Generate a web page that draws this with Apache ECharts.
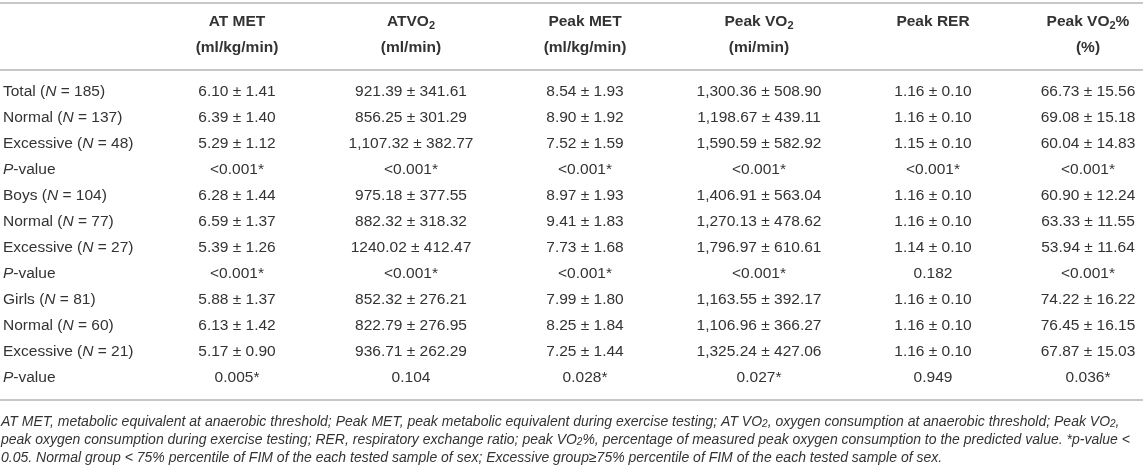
<!DOCTYPE html>
<html>
<head>
<meta charset="utf-8">
<script src="https://cdn.jsdelivr.net/npm/echarts@6/dist/echarts.min.js"></script>
<style>
  html, body { margin: 0; padding: 0; background: #fff; }
  #main { width: 1143px; height: 472px; }
</style>
</head>
<body>
<div id="main"></div>
<script type="text/javascript">
    // column headers (rich text, "2" is a subscript)
    var colHeaders = [
        '{b|AT MET}\n{b|(ml/kg/min)}',
        '{b|ATVO}{bs|2}\n{b|(ml/min)}',
        '{b|Peak MET}\n{b|(ml/kg/min)}',
        '{b|Peak VO}{bs|2}\n{b|(mi/min)}',
        '{b|Peak RER}\n{b| }'
    ];
    var lastHeader = ['{b|Peak VO}{bs|2}{b|%}\n{b|(%)}'];

    // row labels
    var rowGroups = ['Total', 'Normal', 'Excessive', 'P-value',
                     'Boys', 'Normal', 'Excessive', 'P-value',
                     'Girls', 'Normal', 'Excessive', 'P-value'];
    var rowN = [185, 137, 48, null, 104, 77, 27, null, 81, 60, 21, null];

    // cell values, one array per column
    var atMet = ['6.10 ± 1.41', '6.39 ± 1.40', '5.29 ± 1.12', '<0.001*',
                 '6.28 ± 1.44', '6.59 ± 1.37', '5.39 ± 1.26', '<0.001*',
                 '5.88 ± 1.37', '6.13 ± 1.42', '5.17 ± 0.90', '0.005*'];
    var atVo2 = ['921.39 ± 341.61', '856.25 ± 301.29', '1,107.32 ± 382.77', '<0.001*',
                 '975.18 ± 377.55', '882.32 ± 318.32', '1240.02 ± 412.47', '<0.001*',
                 '852.32 ± 276.21', '822.79 ± 276.95', '936.71 ± 262.29', '0.104'];
    var peakMet = ['8.54 ± 1.93', '8.90 ± 1.92', '7.52 ± 1.59', '<0.001*',
                   '8.97 ± 1.93', '9.41 ± 1.83', '7.73 ± 1.68', '<0.001*',
                   '7.99 ± 1.80', '8.25 ± 1.84', '7.25 ± 1.44', '0.028*'];
    var peakVo2 = ['1,300.36 ± 508.90', '1,198.67 ± 439.11', '1,590.59 ± 582.92', '<0.001*',
                   '1,406.91 ± 563.04', '1,270.13 ± 478.62', '1,796.97 ± 610.61', '<0.001*',
                   '1,163.55 ± 392.17', '1,106.96 ± 366.27', '1,325.24 ± 427.06', '0.027*'];
    var peakRer = ['1.16 ± 0.10', '1.16 ± 0.10', '1.15 ± 0.10', '<0.001*',
                   '1.16 ± 0.10', '1.16 ± 0.10', '1.14 ± 0.10', '0.182',
                   '1.16 ± 0.10', '1.16 ± 0.10', '1.16 ± 0.10', '0.949'];
    var peakVo2Pct = ['66.73 ± 15.56', '69.08 ± 15.18', '60.04 ± 14.83', '<0.001*',
                      '60.90 ± 12.24', '63.33 ± 11.55', '53.94 ± 11.64', '<0.001*',
                      '74.22 ± 16.22', '76.45 ± 16.15', '67.87 ± 15.03', '0.036*'];

    // footnote lines
    var notes = [
        'AT MET, metabolic equivalent at anaerobic threshold; Peak MET, peak metabolic equivalent during exercise testing; AT VO{s|2}, oxygen consumption at anaerobic threshold; Peak VO{s|2},',
        'peak oxygen consumption during exercise testing; RER, respiratory exchange ratio; peak VO{s|2}%, percentage of measured peak oxygen consumption to the predicted value. *p-value <',
        '0.05. Normal group < 75% percentile of FIM of the each tested sample of sex; Excessive group≥75% percentile of FIM of the each tested sample of sex.'
    ];

    var FONT = '"Liberation Sans", Arial, sans-serif';
    var TXT = '#333';
    var RULE = '#b4b4b4';
    var FS = 15.5;

    // build cell data [col, row] for each grid
    function buildCells(cols) {
        var data = [], text = [];
        for (var c = 0; c < cols.length; c++) {
            for (var r = 0; r < cols[c].length; r++) {
                data.push([c, r]);
                text.push(cols[c][r]);
            }
        }
        return { data: data, text: text };
    }
    var cellsA = buildCells([atMet, atVo2, peakMet, peakVo2, peakRer]);
    var cellsB = buildCells([peakVo2Pct]);

    function textRenderer(texts) {
        return function (params, api) {
            var p = api.coord([api.value(0), api.value(1)]);
            return {
                type: 'text',
                x: p[0],
                y: p[1],
                style: {
                    text: texts[params.dataIndex],
                    fill: TXT,
                    font: FS + 'px ' + FONT,
                    align: 'center',
                    verticalAlign: 'middle'
                }
            };
        };
    }

    var rowLabels = rowGroups.map(function (g, i) {
        if (g === 'P-value') return '{i|P}{n|-value}';
        return '{n|' + g + ' (}{i|N}{n| = ' + rowN[i] + ')}';
    });

    var myChart = echarts.init(document.getElementById('main'));

    var headRich = {
        b: { fontSize: FS, fontWeight: 'bold', fontFamily: FONT, color: TXT, lineHeight: 26 },
        bs: { fontSize: 11, fontWeight: 'bold', fontFamily: FONT, color: TXT, lineHeight: 26, verticalAlign: 'bottom', padding: [0, 0, 4, 0] }
    };
    var noteRich = {
        s: { fontSize: 10, fontStyle: 'italic', fontFamily: FONT, color: TXT, verticalAlign: 'bottom', lineHeight: 13 }
    };

    var graphics = [
        { type: 'line', shape: { x1: 0, y1: 3, x2: 1143, y2: 3 }, style: { stroke: RULE, lineWidth: 1.5 } },
        { type: 'line', shape: { x1: 0, y1: 70, x2: 1143, y2: 70 }, style: { stroke: RULE, lineWidth: 1.5 } },
        { type: 'line', shape: { x1: 0, y1: 400, x2: 1143, y2: 400 }, style: { stroke: RULE, lineWidth: 1.5 } }
    ];
    notes.forEach(function (t, i) {
        graphics.push({
            type: 'text',
            x: 1,
            y: 422 + i * 18,
            style: {
                text: t,
                fill: TXT,
                font: 'italic 14px ' + FONT,
                verticalAlign: 'middle',
                rich: noteRich
            }
        });
    });

    function headAxis(idx, data, gap) {
        return {
            type: 'category',
            gridIndex: idx,
            position: 'top',
            data: data,
            boundaryGap: gap,
            axisLine: { show: false },
            axisTick: { show: false },
            splitLine: { show: false },
            axisLabel: {
                interval: 0,
                margin: 31,
                formatter: function (v) { return v; },
                rich: headRich
            }
        };
    }

    var option = {
        animation: false,
        textStyle: { fontFamily: FONT, color: TXT },
        grid: [
            { left: 236, right: 210, top: 92, bottom: 94, containLabel: false },
            { left: 1048, right: 15, top: 92, bottom: 94, containLabel: false }
        ],
        xAxis: [
            headAxis(0, colHeaders, false),
            headAxis(1, lastHeader, true)
        ],
        yAxis: [{
            type: 'category',
            gridIndex: 0,
            inverse: true,
            data: rowLabels,
            boundaryGap: false,
            axisLine: { show: false },
            axisTick: { show: false },
            splitLine: { show: false },
            axisLabel: {
                interval: 0,
                align: 'left',
                margin: 234,
                formatter: function (v) { return v; },
                rich: {
                    n: { fontSize: FS, fontFamily: FONT, color: TXT },
                    i: { fontSize: FS, fontFamily: FONT, fontStyle: 'italic', color: TXT }
                }
            }
        }, {
            type: 'category',
            gridIndex: 1,
            inverse: true,
            data: rowLabels,
            boundaryGap: false,
            show: false
        }],
        series: [{
            type: 'custom',
            xAxisIndex: 0,
            yAxisIndex: 0,
            data: cellsA.data,
            encode: { x: 0, y: 1 },
            renderItem: textRenderer(cellsA.text)
        }, {
            type: 'custom',
            xAxisIndex: 1,
            yAxisIndex: 1,
            data: cellsB.data,
            encode: { x: 0, y: 1 },
            renderItem: textRenderer(cellsB.text)
        }],
        graphic: graphics
    };

    myChart.setOption(option);
</script>
</body>
</html>
